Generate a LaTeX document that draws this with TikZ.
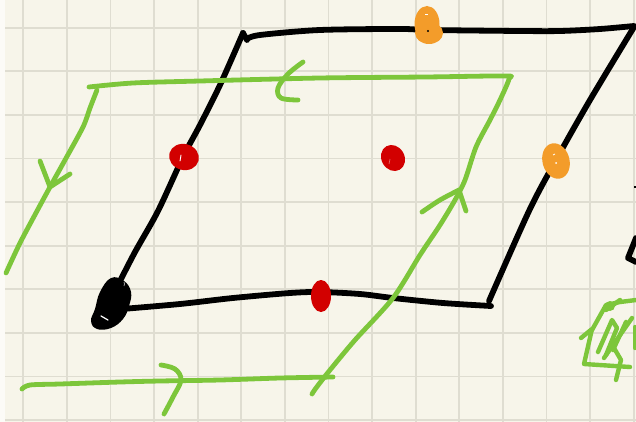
\documentclass[tikz,border=0pt]{standalone}
\usetikzlibrary{calc}
\definecolor{paper}{HTML}{F7F5EA}
\definecolor{gridc}{HTML}{DFDDD1}
\definecolor{ink}{HTML}{000000}
\definecolor{grn}{HTML}{7DC63B}
\definecolor{redd}{HTML}{D20000}
\definecolor{orng}{HTML}{F39C2A}
\tikzset{
  blk/.style={draw=ink, line width=5.8pt, line cap=round, line join=round},
  gpen/.style={draw=grn, line width=4.8pt, line cap=round, line join=round},
  gridline/.style={draw=gridc, line width=1.8pt},
}
\begin{document}
\begin{tikzpicture}[x=1pt,y=-1pt]
\useasboundingbox (0,0) rectangle (636,422);
\fill[paper] (0,0) rectangle (636,422);
\fill[white!60!paper] (0,0) rectangle (5,422);
% grid
\foreach \k in {0,...,14} { \draw[gridline] ({23.3+43.6*\k},0) -- ({23.3+43.6*\k},422); }
\foreach \k in {0,...,9} { \draw[gridline] (5,{27.7+43.6*\k}) -- (636,{27.7+43.6*\k}); }

% black parallelogram
\draw[blk] plot[smooth, tension=0.5] coordinates {(243,33) (220,85) (200,125) (183,157) (158,211) (135,252) (117,287)};
\draw[blk] (243,33) -- (247,40);
\draw[blk] plot[smooth, tension=0.5] coordinates {(247,39) (260,35) (320,30) (400,29) (430,30) (520,31) (560,31) (600,29) (634,26)};
\draw[blk] plot[smooth, tension=0.5] coordinates {(634,27) (590,100) (556,160) (529,211) (489,301)};
\draw[blk] plot[smooth, tension=0.5] coordinates {(122,309) (180,304) (233,298) (290,293) (320,292) (360,294) (393,298) (443,303) (491,306)};
% black blob
\fill[ink] plot[smooth cycle, tension=0.7] coordinates {(111,278) (124,281) (131,292) (129,306) (123,319) (111,328) (97,329) (91,321) (95,309) (100,292)};
\draw[white, line width=1.2pt, line cap=round] (101,316) -- (108,320);
\draw[white!60!ink, line width=0.8pt] (124,286) arc (-30:30:4pt);
% right-edge fragments
\draw[blk] (636,238) -- (628,258) -- (636,262);
\draw[ink, line width=2.5pt] (634,187) -- (636,187);

% dots
\fill[redd, rotate around={-15:(184,157)}] (184,157) ellipse (15pt and 13pt);
\draw[white, line width=0.9pt, line cap=round] (180,161) -- (181,155);
\fill[redd, rotate around={30:(393,158)}] (393,158) ellipse (11.5pt and 13.5pt);
\draw[white!40!redd, line width=0.7pt] (389,164) -- (390,159);
\fill[redd] (321,296) ellipse (10pt and 16pt);
\fill[orng] (427,24) ellipse (12.5pt and 18pt);
\fill[orng] (429,33) ellipse (14pt and 11pt);
\draw[white, line width=0.8pt] (425,14) -- (428,14);
\fill[ink] (428,31) circle (1.2pt);
\fill[orng, rotate around={15:(556,161)}] (556,161) ellipse (13.5pt and 18pt);
\draw[white, line width=0.8pt] (553,155) -- (555,154);
\fill[white] (556,163) circle (1pt);

% green loop
\draw[gpen] plot[smooth, tension=0.5] coordinates {(89,87) (133,83) (200,81) (320,78) (426,77) (505,76) (509,79) (500,100) (490,120) (476,147) (465,180) (455,200) (440,225) (420,255) (393,298) (355,340) (330,370) (316,388) (312,394)};
\draw[gpen] plot[smooth, tension=0.5] coordinates {(97,90) (90,108) (83,127) (65,160) (50,187) (37,211) (20,243) (6,273)};
\draw[gpen] plot[smooth, tension=0.5] coordinates {(22,389) (30,385) (60,384) (120,382) (160,381) (220,380) (280,378) (333,377)};
% arrowheads
\draw[gpen] (40,161) -- (50,187) -- (70,174);
\draw[gpen] plot[smooth, tension=0.6] coordinates {(303,62) (288,74) (278,88) (281,98) (298,100)};
\draw[gpen] plot[smooth, tension=0.6] coordinates {(161,365) (175,369) (181,380) (173,397) (164,414)};
\draw[gpen] plot[smooth, tension=0.5] coordinates {(422,212) (440,200) (459,190)};
\draw[gpen] (459,190) -- (466,211);

% green scribble (bottom right)
\begin{scope}[line width=4.4pt, line cap=round, line join=round]
\draw[grn] (581,338) -- (592,329) -- (584,364) -- (630,367);
\draw[grn] (592,330) -- (606,305) -- (620,302) -- (636,300);
\draw[grn] (598,352) -- (612,320) -- (617,328) -- (606,355);
\draw[grn] (604,358) -- (632,318);
\draw[grn] (613,350) -- (626,322);
\draw[grn] (616,380) -- (621,360) -- (614,348);
\draw[grn] (635,327) -- (635,348);
\draw[grn] (606,310) -- (620,300);
\fill[grn] (610,306) circle (5pt);
\end{scope}
\end{tikzpicture}
\end{document}
